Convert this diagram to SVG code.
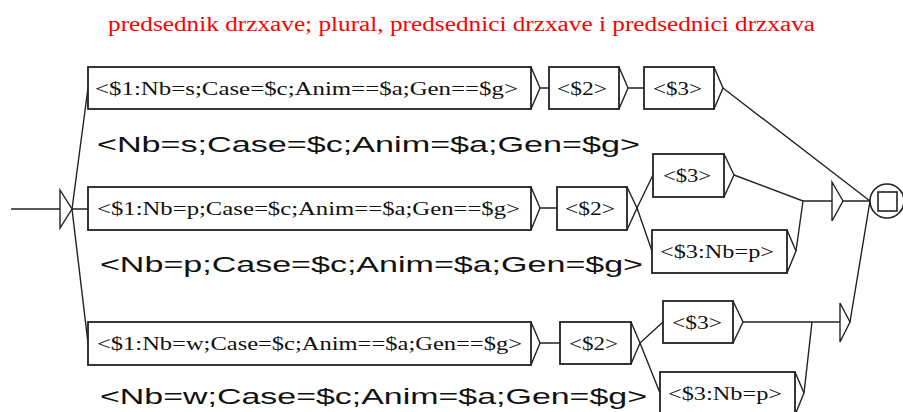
<svg xmlns="http://www.w3.org/2000/svg" width="903" height="412" viewBox="0 0 903 412">
<style>
.box{fill:#fff;stroke:#222;stroke-width:1.8}
.tri{fill:none;stroke:#222;stroke-width:1.4;stroke-linejoin:miter}
.ln{fill:none;stroke:#222;stroke-width:1.4}
.in{font-family:"Liberation Serif","Times New Roman",serif;font-size:19px;fill:#111}
.out{font-family:"Liberation Sans",Arial,sans-serif;font-size:22px;fill:#111}
.title{font-family:"Liberation Serif","Times New Roman",serif;font-size:20px;fill:#ff0000}
</style>
<rect width="903" height="412" fill="#fff"/>
<text class="title" x="108" y="31" textLength="707" lengthAdjust="spacingAndGlyphs">predsednik drzxave; plural, predsednici drzxave i predsednici drzxava</text>
<g id="connectors">
<path class="ln" d="M11,209H60"/>
<path class="ln" d="M72,209L88,88M72,209H88M72,209L88,343"/>
<path class="ln" d="M540,88H549M628,88H644M723,88L870,201"/>
<path class="ln" d="M540,208H557M637,208L653,175M637,208L652,251M734,175L803,201M796,251L803,201M803,201H832M843,201H870"/>
<path class="ln" d="M540,343H560M640,343L663,322M640,343L660,393M743,322H840M804,393L812,322M850,322L870,201"/>
</g>
<g id="initial">
<path class="tri" d="M60,190L72,209L60,228Z"/>
</g>
<g id="r1b1">
<rect class="box" x="88" y="67" width="443" height="42"/>
<path class="tri" d="M531,67L540,88L531,109"/>
<text class="in" x="95" y="95" textLength="423" lengthAdjust="spacingAndGlyphs">&lt;$1:Nb=s;Case=$c;Anim==$a;Gen==$g&gt;</text>
<text class="out" x="97" y="152" textLength="543" lengthAdjust="spacingAndGlyphs">&lt;Nb=s;Case=$c;Anim=$a;Gen=$g&gt;</text>
</g>
<g id="r1b2">
<rect class="box" x="549" y="67" width="70" height="42"/>
<path class="tri" d="M619,67L628,88L619,109"/>
<text class="in" x="557" y="95" textLength="50" lengthAdjust="spacingAndGlyphs">&lt;$2&gt;</text>
</g>
<g id="r1b3">
<rect class="box" x="644" y="67" width="70" height="42"/>
<path class="tri" d="M714,67L723,88L714,109"/>
<text class="in" x="653" y="95" textLength="49" lengthAdjust="spacingAndGlyphs">&lt;$3&gt;</text>
</g>
<g id="r2b1">
<rect class="box" x="88" y="187" width="443" height="43"/>
<path class="tri" d="M531,187L540,208L531,230"/>
<text class="in" x="97" y="215" textLength="423" lengthAdjust="spacingAndGlyphs">&lt;$1:Nb=p;Case=$c;Anim==$a;Gen==$g&gt;</text>
<text class="out" x="100" y="272" textLength="543" lengthAdjust="spacingAndGlyphs">&lt;Nb=p;Case=$c;Anim=$a;Gen=$g&gt;</text>
</g>
<g id="r2b2">
<rect class="box" x="557" y="187" width="70" height="43"/>
<path class="tri" d="M627,187L637,208L627,230"/>
<text class="in" x="565" y="215" textLength="50" lengthAdjust="spacingAndGlyphs">&lt;$2&gt;</text>
</g>
<g id="r2b3">
<rect class="box" x="653" y="154" width="71" height="43"/>
<path class="tri" d="M724,154L734,175L724,197"/>
<text class="in" x="663" y="182" textLength="48" lengthAdjust="spacingAndGlyphs">&lt;$3&gt;</text>
</g>
<g id="r2b4">
<rect class="box" x="652" y="230" width="135" height="43"/>
<path class="tri" d="M787,230L796,251L787,273"/>
<text class="in" x="660" y="258" textLength="114" lengthAdjust="spacingAndGlyphs">&lt;$3:Nb=p&gt;</text>
</g>
<g id="r2merge">
<path class="tri" d="M832,182L843,201L832,221Z"/>
</g>
<g id="r3b1">
<rect class="box" x="88" y="322" width="443" height="43"/>
<path class="tri" d="M531,322L540,343L531,365"/>
<text class="in" x="97" y="350" textLength="425" lengthAdjust="spacingAndGlyphs">&lt;$1:Nb=w;Case=$c;Anim==$a;Gen==$g&gt;</text>
<text class="out" x="100" y="404" textLength="547" lengthAdjust="spacingAndGlyphs">&lt;Nb=w;Case=$c;Anim=$a;Gen=$g&gt;</text>
</g>
<g id="r3b2">
<rect class="box" x="560" y="322" width="71" height="42"/>
<path class="tri" d="M631,322L640,343L631,364"/>
<text class="in" x="569" y="350" textLength="49" lengthAdjust="spacingAndGlyphs">&lt;$2&gt;</text>
</g>
<g id="r3b3">
<rect class="box" x="663" y="301" width="70" height="42"/>
<path class="tri" d="M733,301L743,322L733,343"/>
<text class="in" x="672" y="329" textLength="50" lengthAdjust="spacingAndGlyphs">&lt;$3&gt;</text>
</g>
<g id="r3b4">
<rect class="box" x="660" y="372" width="135" height="43"/>
<path class="tri" d="M795,372L804,393L795,415"/>
<text class="in" x="668" y="400" textLength="114" lengthAdjust="spacingAndGlyphs">&lt;$3:Nb=p&gt;</text>
</g>
<g id="r3merge">
<path class="tri" d="M840,303L850,322L840,342Z"/>
</g>
<g id="final">
<circle cx="887" cy="201" r="17" fill="#fff" stroke="#222" stroke-width="1.6"/>
<rect x="878" y="192" width="19" height="19" fill="none" stroke="#222" stroke-width="1.6"/>
</g>
</svg>
